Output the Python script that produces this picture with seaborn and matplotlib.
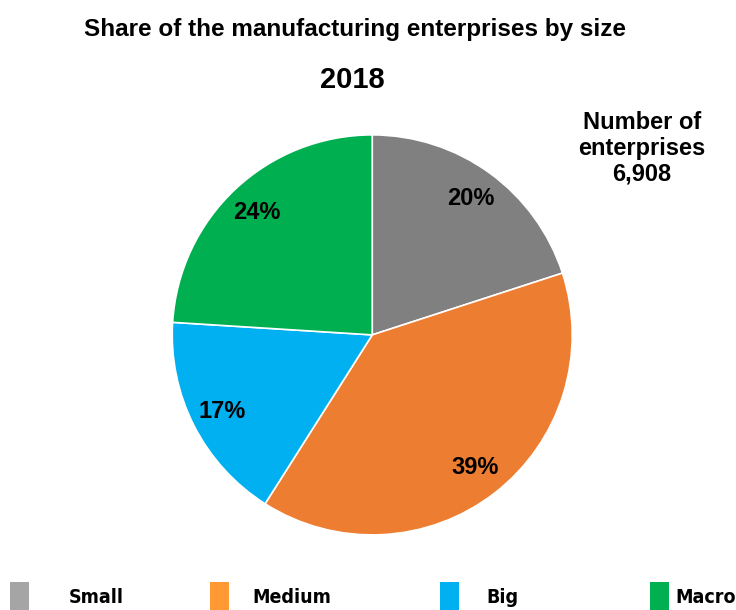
import matplotlib
matplotlib.use("Agg")
import matplotlib.pyplot as plt
import matplotlib.patches as mpatches
import seaborn as sns

# data
categories = ["Small", "Medium", "Big", "Macro"]
shares = [20, 39, 17, 24]
pie_colors = ["#808080", "#ed7d31", "#00b0f0", "#00b050"]
legend_colors = ["#a5a5a5", "#ff9933", "#00b0f0", "#00b050"]
total_enterprises = "6,908"
year = "2018"

sns.set_theme(style="white")
plt.rcParams["font.family"] = ["Liberation Sans", "DejaVu Sans"]
plt.rcParams["text.color"] = "black"

fig = plt.figure(figsize=(7.36, 6.10), dpi=100)
ax = fig.add_axes([0.234, 0.123, 0.5435, 0.656])

wedges, texts, autotexts = ax.pie(
    shares,
    colors=pie_colors,
    startangle=90,
    counterclock=False,
    autopct=lambda p: f"{p:.0f}%",
    pctdistance=0.84,
    wedgeprops=dict(edgecolor="white", linewidth=1.2),
    textprops=dict(fontsize=17, fontweight="bold", color="black"),
)
ax.set_xlim(-1, 1)
ax.set_ylim(-1, 1)
ax.set_aspect("equal")
ax.axis("off")

fig.text(0.482, 0.951, "Share of the manufacturing enterprises by size",
         ha="center", va="center", fontsize=17.5, fontweight="bold")
fig.text(0.479, 0.869, year, ha="center", va="center",
         fontsize=21, fontweight="bold")
fig.text(0.872, 0.757, f"Number of\nenterprises\n{total_enterprises}",
         ha="center", va="center", fontsize=17, fontweight="bold",
         linespacing=1.14)

# legend: one entry per slot so each square sits where the reference has it
slot_x = [10, 210, 440, 650]
text_pad = [2.0, 1.2, 1.4, 0.3]
for cat, col, x, pad in zip(categories, legend_colors, slot_x, text_pad):
    leg = fig.legend([mpatches.Patch(facecolor=col, edgecolor="none")], [cat],
                     loc="center left", bbox_to_anchor=(x / 736, 0.021),
                     frameon=False, borderpad=0, borderaxespad=0,
                     handlelength=1.0, handleheight=2.0, handletextpad=pad,
                     prop={"family": "DejaVu Sans", "stretch": "condensed",
                           "weight": "bold", "size": 14})

fig.savefig("out.png", dpi=100)
